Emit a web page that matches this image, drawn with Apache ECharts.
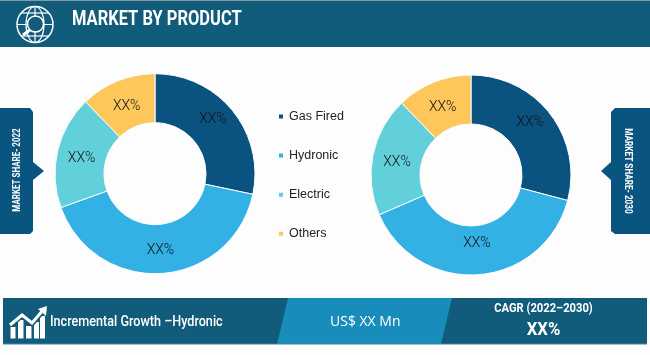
<!DOCTYPE html>
<html><head><meta charset="utf-8">
<style>html,body{margin:0;padding:0;background:#fdfdfd}#c{width:650px;height:355px}</style>
<script src="https://cdn.jsdelivr.net/npm/echarts@6/dist/echarts.min.js"></script></head>
<body><div id="c"></div>
<script>
var categories=['Gas Fired','Hydronic','Electric','Others'];
var share2022=[28.3,41.2,18.3,12.2];
var share2030=[29.1,39.4,19.3,12.2];
var sliceLabels=['XX%','XX%','XX%','XX%'];
var colors=['#0a5380','#33b0e4','#62d0da','#fdc75c'];
var chart=echarts.init(document.getElementById('c'),null,{renderer:'canvas'});
function pie(cx,cy,vals,offsets){return {type:'pie',center:[cx,cy],radius:[51,100],startAngle:90,clockwise:true,
 silent:true,animation:false,data:categories.map(function(n,i){return {name:n,value:vals[i],itemStyle:{color:colors[i]},label:{offset:offsets[i]}}}),
 label:{show:true,position:'inside',formatter:function(p){return sliceLabels[p.dataIndex]},color:'#111',fontSize:14,fontFamily:'Roboto',fontWeight:300},
 labelLine:{show:false},itemStyle:{borderColor:'#fdfdfd',borderWidth:1}}}
var W='#fff',D='#115c7a',B='#188cba',N='#0a5480';
var g=[
 {type:'rect',shape:{x:0,y:0,width:650,height:47},style:{fill:D}},
 {type:'rect',shape:{x:0,y:0,width:650,height:1},style:{fill:'#8a9aa5'}},
 {type:'text',x:72,y:20.5,scaleX:.845,style:{x:0,y:0,text:'MARKET BY PRODUCT',fill:W,font:'bold 19.5px Roboto',verticalAlign:'middle'}},
 {type:'circle',shape:{cx:35,cy:24.5,r:18},style:{fill:'none',stroke:W,lineWidth:1.5}},
 {type:'ellipse',shape:{cx:35,cy:24.5,rx:9,ry:18},style:{fill:'none',stroke:W,lineWidth:1.2}},
 {type:'line',shape:{x1:35,y1:6.5,x2:35,y2:42.5},style:{stroke:W,lineWidth:1.2}},
 {type:'line',shape:{x1:17,y1:24.5,x2:53,y2:24.5},style:{stroke:W,lineWidth:1.2}},
 {type:'line',shape:{x1:21,y1:13,x2:49,y2:13},style:{stroke:W,lineWidth:1.2}},
 {type:'line',shape:{x1:21,y1:36,x2:49,y2:36},style:{stroke:W,lineWidth:1.2}},
 {type:'circle',shape:{cx:35.5,cy:24,r:8},style:{fill:D,stroke:W,lineWidth:1.5}},
 {type:'line',shape:{x1:30,y1:30,x2:23,y2:35},style:{stroke:W,lineWidth:3}},
 {type:'polygon',shape:{points:[[0,108],[30,108],[33,112],[33,162],[44,171],[33,180],[33,231],[30,234],[0,234]]},style:{fill:N}},
 {type:'text',rotation:Math.PI/2,x:17,y:170,scaleX:.8,style:{x:0,y:0,text:'MARKET SHARE- 2022',fill:W,font:'bold 10px Roboto',align:'center',verticalAlign:'middle'}},
 {type:'polygon',shape:{points:[[650,108],[615,108],[611,112],[611,162],[601,171],[611,180],[611,231],[615,234],[650,234]]},style:{fill:N}},
 {type:'text',rotation:-Math.PI/2,x:627,y:171,scaleX:.82,style:{x:0,y:0,text:'MARKET SHARE- 2030',fill:W,font:'bold 10px Roboto',align:'center',verticalAlign:'middle'}},
 {type:'rect',shape:{x:3,y:298,width:644,height:46},style:{fill:D}},
 {type:'polygon',shape:{points:[[288,298],[452,298],[441,344],[277,344]]},style:{fill:B}},
 {type:'rect',shape:{x:3,y:343.5,width:644,height:1},style:{fill:'#3f86a4'}},
 {type:'text',x:50,y:322,scaleX:.87,style:{x:0,y:0,text:'Incremental Growth \u2013Hydronic',fill:W,font:'500 14.5px Roboto',verticalAlign:'middle'}},
 {type:'text',style:{x:330,y:322,text:'US$ XX Mn',fill:W,font:'14px "Open Sans"',verticalAlign:'middle'}},
 {type:'text',x:543.5,y:309,scaleX:.86,style:{x:0,y:0,text:'CAGR (2022\u20132030)',fill:W,font:'bold 13px Roboto',align:'center',verticalAlign:'middle'}},
 {type:'text',x:543.5,y:330,scaleX:.93,style:{x:0,y:0,text:'XX%',fill:W,font:'bold 18px Roboto',align:'center',verticalAlign:'middle'}}
];
[[10.5,5,327],[18,5.5,320],[26,5.5,326],[34,5,322],[40,5,316]].forEach(function(r){g.push({type:'rect',shape:{x:r[0],y:r[2],width:r[1],height:338.5-r[2]},style:{fill:W}})});
var trend=[[10,325],[22,315],[32,323],[44,309]];
g.push({type:'polyline',shape:{points:trend},style:{fill:'none',stroke:D,lineWidth:6}});
g.push({type:'polyline',shape:{points:trend},style:{fill:'none',stroke:W,lineWidth:3}});
g.push({type:'polygon',shape:{points:[[47,306],[38,309],[46,316]]},style:{fill:W}});
chart.setOption({animation:false,backgroundColor:'#fdfdfd',
 legend:{show:true,orient:'vertical',left:272,top:105,itemWidth:6,itemHeight:6,itemGap:26.1,icon:'rect',data:categories,
  textStyle:{color:'#222',fontSize:12.5,fontFamily:'Liberation Sans'},selectedMode:false},
 series:[pie(155,173.7,share2022,[[-3,-5],[0,-2],[3,3],[1,6]]),pie(471,175,share2030,[[-3,-5],[0,-10],[3,3],[1,5]])],graphic:{elements:g}});
</script></body></html>
